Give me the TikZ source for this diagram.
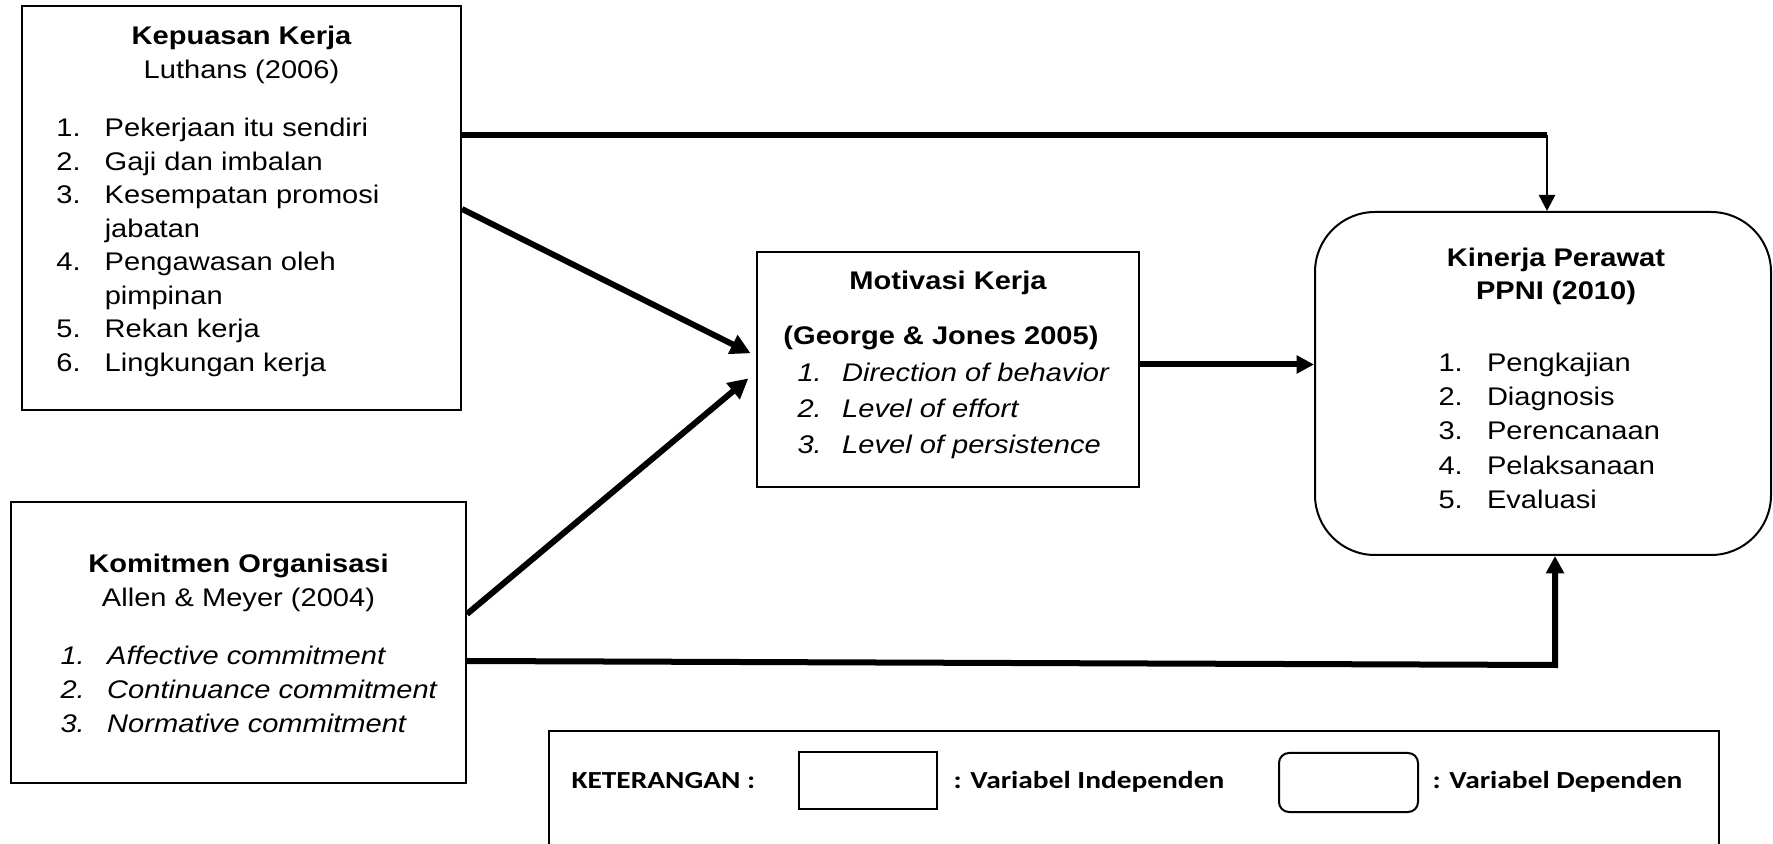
\documentclass[tikz,border=0pt]{standalone}
\usepackage{fontspec}
\setmainfont[FakeStretch=1.14]{Liberation Sans}
\newfontfamily\legfont[FakeStretch=1.2]{Carlito}
\usetikzlibrary{arrows.meta,calc}
\newcommand{\bodysize}{\fontsize{10.2}{13.4}\selectfont}
\newcommand{\motsize}{\fontsize{10.2}{14.3}\selectfont}
\newcommand{\kinsize}{\fontsize{10.2}{13.66}\selectfont}
\renewcommand{\arraystretch}{1}
\begin{document}
\begin{tikzpicture}[x=0.4pt,y=-0.4pt,
  varbox/.style={draw, line width=0.8pt, inner sep=0pt, rectangle},
  depbox/.style={draw, line width=0.8pt, inner sep=0pt, rectangle, rounded corners=24pt},
  titletext/.style={font=\bodysize\bfseries, inner sep=0pt, anchor=base},
  subtext/.style={font=\bodysize, inner sep=0pt, anchor=base},
  listtext/.style={inner sep=0pt, anchor=base west},
  legtext/.style={font=\fontsize{9.8}{12}\legfont\bfseries, inner sep=0pt, anchor=base west},
  bigarrow/.style={line width=2.4pt, line join=miter, -{Triangle[length=7pt,width=7pt]}},
  diagarrow/.style={line width=2.4pt, -{Triangle[length=8pt,width=8pt]}},
  thinarrow/.style={line width=1pt, -{Triangle[length=6.4pt,width=6.4pt]}},
  plainline/.style={line width=2.4pt}
]
\useasboundingbox (0,0) rectangle (1773,844);
\clip (0,0) rectangle (1773,844);

% boxes
\node[varbox, minimum width=175.6pt, minimum height=161.6pt] (kep) at (241.5,208) {};
\node[varbox, minimum width=182pt, minimum height=112.4pt] (kom) at (238.5,642.5) {};
\node[varbox, minimum width=152.8pt, minimum height=94pt] (mot) at (948,369.5) {};
\node[depbox, minimum width=182.4pt, minimum height=137.2pt] (kin) at (1543,383.5) {};

% Kepuasan Kerja
\node[titletext] (kept) at (241.5,45) {Kepuasan Kerja};
\node[subtext] (keps) at (241.5,79) {Luthans (2006)};
\node[listtext, font=\bodysize] (kepl) at (56,136.7) {\begin{tabular}[t]{@{}p{19.3pt}@{}l@{}}
1. & Pekerjaan itu sendiri\\
2. & Gaji dan imbalan\\
3. & Kesempatan promosi\\
   & jabatan\\
4. & Pengawasan oleh\\
   & pimpinan\\
5. & Rekan kerja\\
6. & Lingkungan kerja
\end{tabular}};

% Komitmen Organisasi
\node[titletext] (komt) at (238.5,573) {Komitmen Organisasi};
\node[subtext] (koms) at (238.5,607) {Allen \& Meyer (2004)};
\node[listtext, font=\bodysize\itshape] (koml) at (60,665) {\begin{tabular}[t]{@{}p{18.7pt}@{}l@{}}
1. & Affective commitment\\
2. & Continuance commitment\\
3. & Normative commitment
\end{tabular}};

% Motivasi Kerja
\node[titletext] (mott) at (948,290) {Motivasi Kerja};
\node[titletext] (mots) at (941,345) {(George \& Jones 2005)};
\node[listtext, font=\motsize\itshape] (motl) at (797,381.7) {\begin{tabular}[t]{@{}p{17.9pt}@{}l@{}}
1. & Direction of behavior\\
2. & Level of effort\\
3. & Level of persistence
\end{tabular}};

% Kinerja Perawat
\node[titletext] (kint) at (1556,267) {Kinerja Perawat};
\node[titletext] (kins) at (1556,300) {PPNI (2010)};
\node[listtext, font=\kinsize] (kinl) at (1438,371.7) {\begin{tabular}[t]{@{}p{19.4pt}@{}l@{}}
1. & Pengkajian\\
2. & Diagnosis\\
3. & Perencanaan\\
4. & Pelaksanaan\\
5. & Evaluasi
\end{tabular}};

% connectors
\coordinate (c1) at (1547,135);
\draw[plainline] (kep.east |- c1) -- (c1);
\draw[thinarrow] (c1) -- (kin.north -| c1);

\draw[diagarrow, shorten >=2.4pt] (kep.east |- 0,209) -- (mot.west |- 0,356);
\draw[diagarrow, shorten >=4pt] (kom.east |- 0,614) -- (mot.west |- 0,372);

\draw[bigarrow] (mot.east |- 0,364.5) -- (kin.west |- 0,364.5);

\coordinate (c2) at (1555,665);
\draw[bigarrow] (kom.east |- 0,661) -- (c2) -- (kin.south -| c2);

% legend
\node[draw, line width=0.8pt, minimum width=468pt, minimum height=67.6pt, inner sep=0pt] (leg) at (1134,815.5) {};
\node[legtext] (legk) at (571,789) {KETERANGAN :};
\node[varbox, minimum width=55.2pt, minimum height=22.8pt] (sq1) at (868,780.5) {};
\node[legtext] (legi) at (953,789) {: Variabel Independen};
\node[draw, line width=0.8pt, inner sep=0pt, rounded corners=4pt, minimum width=55.6pt, minimum height=23.6pt] (sq2) at (1348.5,782.5) {};
\node[legtext] (legd) at (1432,789) {: Variabel Dependen};
\end{tikzpicture}
\end{document}
